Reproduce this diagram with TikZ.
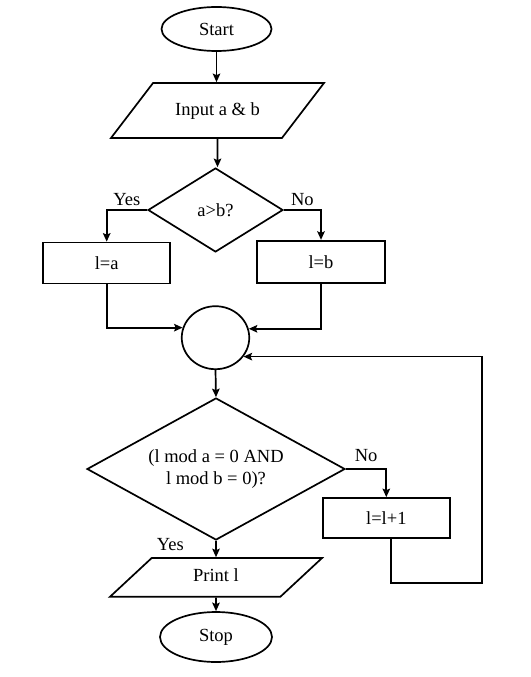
\documentclass[tikz,border=0pt]{standalone}
\usepackage{fontspec}
\setmainfont{Liberation Serif}
\usetikzlibrary{shapes.geometric,arrows.meta,positioning,calc}

\begin{document}
\begin{tikzpicture}[x=1pt, y=-1pt, line width=1.7pt, every node/.style={align=center, font=\fontsize{18.5}{22}\selectfont}]
        % node styles
        \tikzstyle{startstop} = [ellipse, draw=black, inner sep=0pt]
        \tikzstyle{io} = [trapezium, trapezium stretches body, draw=black, inner xsep=0pt, text height=13pt, text depth=4pt]
        \tikzstyle{process} = [rectangle, draw=black, inner sep=0pt]
        \tikzstyle{decision} = [diamond, draw=black, inner sep=0pt]
        \tikzstyle{arrow} = [-{Stealth[length=8.5pt,width=7.5pt,inset=1.5pt]}]

        \useasboundingbox (0,0) rectangle (530,677);

        % nodes
        \node (start) [startstop, minimum width=110pt, minimum height=44pt] at (216.5,29) {Start};
        \node (input) [io, trapezium left angle=52.6, trapezium right angle=127.4, inner ysep=19pt, minimum width=213pt] at (217.5,110.5) {Input a \& b};
        \node (dec1) [decision, aspect=1.6, minimum width=135pt, minimum height=84pt] at (215.5,210) {a>b?};
        \node (la) [process, minimum width=127pt, minimum height=41pt] at (106.7,263) {l=a};
        \node (lb) [process, minimum width=128pt, minimum height=42pt] at (321,261.7) {l=b};
        \node (join) [startstop, minimum width=67.5pt, minimum height=63pt] at (215.5,337.7) {};
        \node (dec2) [decision, aspect=1.8, minimum width=258pt, minimum height=142pt] at (216,469) {(l mod a = 0 AND\\l mod b = 0)?};
        \node (inc) [process, minimum width=127pt, minimum height=40pt] at (386.3,518) {l=l+1};
        \node (print) [io, trapezium left angle=42.9, trapezium right angle=137.1, inner ysep=10.85pt, minimum width=212pt] at (216,577.4) {Print l};
        \node (stop) [startstop, minimum width=112pt, minimum height=50pt] at (216,637) {Stop};
        \coordinate (loop) at (481.7,583);

        % connectors
        \draw [arrow] (start) -- (start |- input.north);
        \draw [arrow] (input) -- (input |- dec1.north);
        \draw [arrow] (dec1.west) -| node[pos=0.25, above] {Yes} (la.north);
        \draw [arrow] (dec1.east) -| node[pos=0.25, above] {No} (lb.north);
        \draw [arrow] (la.south) |- (join.163);
        \draw [arrow] (lb.south) |- (join.15);
        \draw [arrow] (join.south) -- (dec2.north);
        \draw [arrow] (dec2.east) -| node[pos=0.25, above=3pt] {No} (inc.north);
        \draw [arrow] ([xshift=5pt]inc.south) |- (loop) |- (join.-34);
        \draw [arrow] (dec2.south) -- node[pos=0.2, left=28pt] {Yes} (print.north);
        \draw [arrow] (print) -- (stop);
    \end{tikzpicture}
\end{document}
